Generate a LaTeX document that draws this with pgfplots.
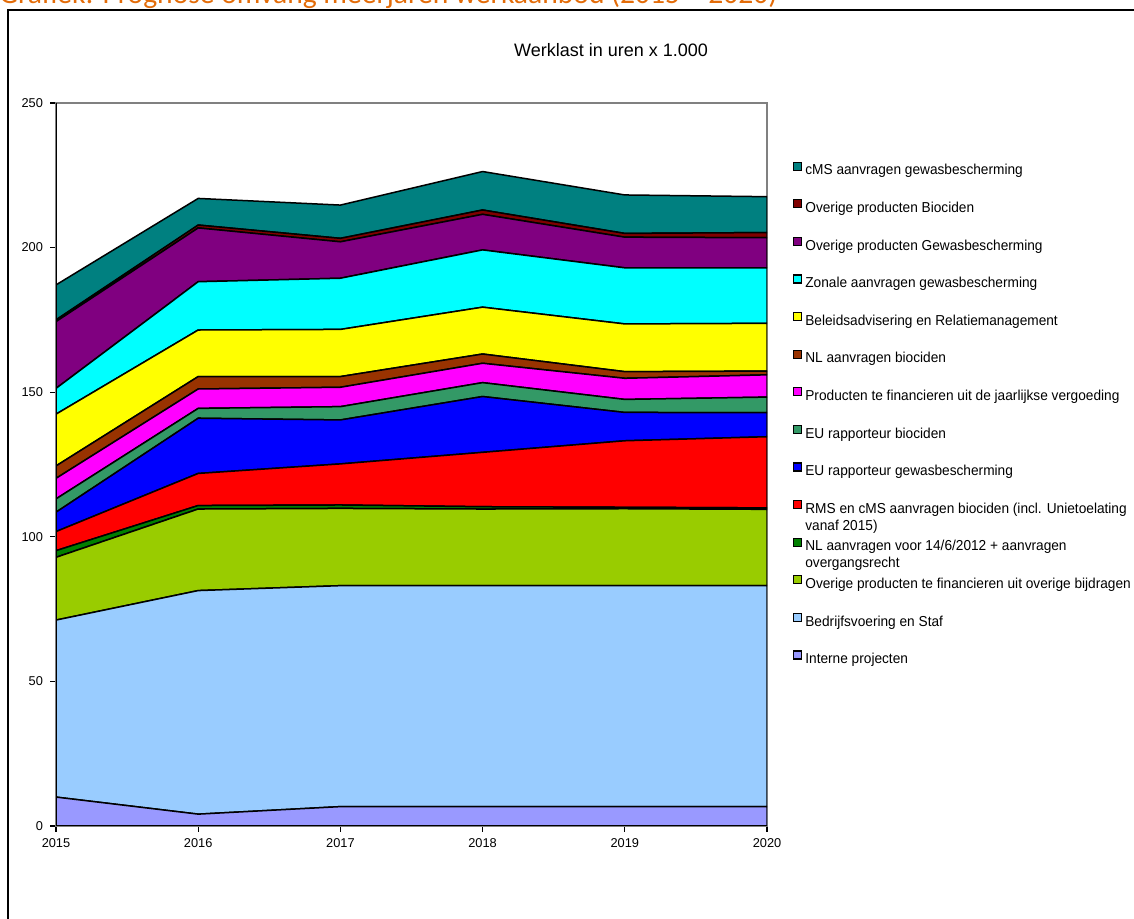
\documentclass[border=0pt]{standalone}
\usepackage{fontspec}
\setmainfont{Liberation Sans}
\newfontfamily\titlefont{Carlito}
\newfontfamily\legfont[FakeStretch=0.95]{Liberation Sans}
\usepackage{pgfplots}
\usepackage{pgfplotstable}
\pgfplotsset{compat=1.18}
\definecolor{cTeal}{HTML}{008080}
\definecolor{cDRed}{HTML}{800000}
\definecolor{cPurple}{HTML}{800080}
\definecolor{cCyan}{HTML}{00FFFF}
\definecolor{cYellow}{HTML}{FFFF00}
\definecolor{cBrown}{HTML}{993300}
\definecolor{cMagenta}{HTML}{FF00FF}
\definecolor{cSea}{HTML}{339966}
\definecolor{cBlue}{HTML}{0000FF}
\definecolor{cRed}{HTML}{FF0000}
\definecolor{cDGreen}{HTML}{008000}
\definecolor{cOlive}{HTML}{99CC00}
\definecolor{cLBlue}{HTML}{99CCFF}
\definecolor{cLav}{HTML}{9999FF}
\definecolor{cOrange}{HTML}{E36C09}
\definecolor{cGray}{HTML}{808080}

\pgfplotstableread{
year interne bedrijf ovbijdr nloud rms eugewas eubioc jaarlijks nlbioc beleid zonaal ovgewas ovbioc cms
2015 10.0 61.2 21.7 2.3 6.6 6.7 4.6 7.1 4.3 17.9 8.9 23.1 0.6 12.1
2016 4.1 77.3 28.2 1.2 11.1 19.1 3.4 6.7 4.3 16.1 16.7 18.6 1.0 9.2
2017 6.7 76.4 26.7 1.2 14.2 15.2 4.6 6.7 3.7 16.3 17.7 12.6 1.2 11.5
2018 6.7 76.4 26.5 0.8 18.8 19.3 4.8 6.7 3.2 16.2 19.8 12.3 1.5 13.3
2019 6.7 76.4 26.6 0.5 23.0 9.8 4.5 7.3 2.3 16.5 19.4 10.6 1.3 13.3
2020 6.7 76.4 26.4 0.5 24.6 8.3 5.4 7.7 1.3 16.5 19.2 10.4 1.8 12.4
}\werklast

\begin{document}
\begin{tikzpicture}
% outer frame
\draw[black, line width=1.3pt] (4pt,-2pt) -- (4pt,454.5pt) -- (570pt,454.5pt);
% cropped document caption
\node[anchor=base west, inner sep=0pt, text=cOrange, font=\titlefont\fontsize{14.8}{16}\selectfont] at (-0.5pt,457.5pt) {Grafiek: Prognose omvang meerjaren werkaanbod (2015 – 2020)};
% chart title
\node[anchor=base, inner sep=0pt, font=\fontsize{9}{10}\selectfont] at (305.5pt,431pt) {Werklast in uren x 1.000};

\begin{axis}[
  at={(28pt,46.5pt)}, anchor=south west,
  width=355.5pt, height=361.5pt, scale only axis,
  xmin=2015, xmax=2020, ymin=0, ymax=250,
  xtick={2015,2016,2017,2018,2019,2020},
  ytick={0,50,100,150,200,250},
  xtick pos=bottom, ytick pos=left,
  tick align=outside, major tick length=3pt,
  tick style={black, line width=0.6pt},
  axis line style={draw=cGray, line width=1pt},
  ticklabel style={font=\fontsize{6.4}{7}\selectfont},
  /pgf/number format/1000 sep={},
  /pgf/number format/assume math mode=true,
  stack plots=y,
  reverse legend,
  legend cell align=left,
  legend image code/.code={\draw[#1, draw=black, line width=0.6pt] (0pt,0.4pt) rectangle (4pt,4.4pt);},
  legend style={
    at={(axis description cs:1.0365,0.919)}, anchor=north west,
    draw=none, fill=none, inner sep=0pt, outer sep=0pt,
    row sep=10.1pt,
    font=\legfont\fontsize{7.2}{8.5}\selectfont,
    nodes={inner sep=0pt, text height=6pt, text depth=2pt},
    /tikz/every odd column/.append style={column sep=1.6pt},
  },
]
\addplot[fill=cLav, draw=black, line width=0.75pt] table[x=year,y=interne] {\werklast} \closedcycle;
\addlegendentry{Interne projecten}
\addplot[fill=cLBlue, draw=black, line width=0.75pt] table[x=year,y=bedrijf] {\werklast} \closedcycle;
\addlegendentry{Bedrijfsvoering en Staf}
\addplot[fill=cOlive, draw=black, line width=0.75pt] table[x=year,y=ovbijdr] {\werklast} \closedcycle;
\addlegendentry{Overige producten te financieren uit overige bijdragen}
\addplot[fill=cDGreen, draw=black, line width=0.75pt] table[x=year,y=nloud] {\werklast} \closedcycle;
\addlegendentry{\begin{tabular}[t]{@{}l@{}}NL aanvragen voor 14/6/2012 + aanvragen\\overgangsrecht\end{tabular}}
\addplot[fill=cRed, draw=black, line width=0.75pt] table[x=year,y=rms] {\werklast} \closedcycle;
\addlegendentry{\begin{tabular}[t]{@{}l@{}}RMS en cMS aanvragen biociden (incl. Unietoelating\\vanaf 2015)\end{tabular}}
\addplot[fill=cBlue, draw=black, line width=0.75pt] table[x=year,y=eugewas] {\werklast} \closedcycle;
\addlegendentry{EU rapporteur gewasbescherming}
\addplot[fill=cSea, draw=black, line width=0.75pt] table[x=year,y=eubioc] {\werklast} \closedcycle;
\addlegendentry{EU rapporteur biociden}
\addplot[fill=cMagenta, draw=black, line width=0.75pt] table[x=year,y=jaarlijks] {\werklast} \closedcycle;
\addlegendentry{Producten te financieren uit de jaarlijkse vergoeding}
\addplot[fill=cBrown, draw=black, line width=0.75pt] table[x=year,y=nlbioc] {\werklast} \closedcycle;
\addlegendentry{NL aanvragen biociden}
\addplot[fill=cYellow, draw=black, line width=0.75pt] table[x=year,y=beleid] {\werklast} \closedcycle;
\addlegendentry{Beleidsadvisering en Relatiemanagement}
\addplot[fill=cCyan, draw=black, line width=0.75pt] table[x=year,y=zonaal] {\werklast} \closedcycle;
\addlegendentry{Zonale aanvragen gewasbescherming}
\addplot[fill=cPurple, draw=black, line width=0.75pt] table[x=year,y=ovgewas] {\werklast} \closedcycle;
\addlegendentry{Overige producten Gewasbescherming}
\addplot[fill=cDRed, draw=black, line width=0.75pt] table[x=year,y=ovbioc] {\werklast} \closedcycle;
\addlegendentry{Overige producten Biociden}
\addplot[fill=cTeal, draw=black, line width=0.75pt] table[x=year,y=cms] {\werklast} \closedcycle;
\addlegendentry{cMS aanvragen gewasbescherming}
\draw[black, line width=1pt] (rel axis cs:0,0) -- (rel axis cs:0,1);
\draw[black, line width=1pt] (rel axis cs:0,0) -- (rel axis cs:1,0);
\end{axis}
\pgfresetboundingbox
\path[use as bounding box] (0pt,0pt) rectangle (567pt,459.5pt);
\end{tikzpicture}
\end{document}
